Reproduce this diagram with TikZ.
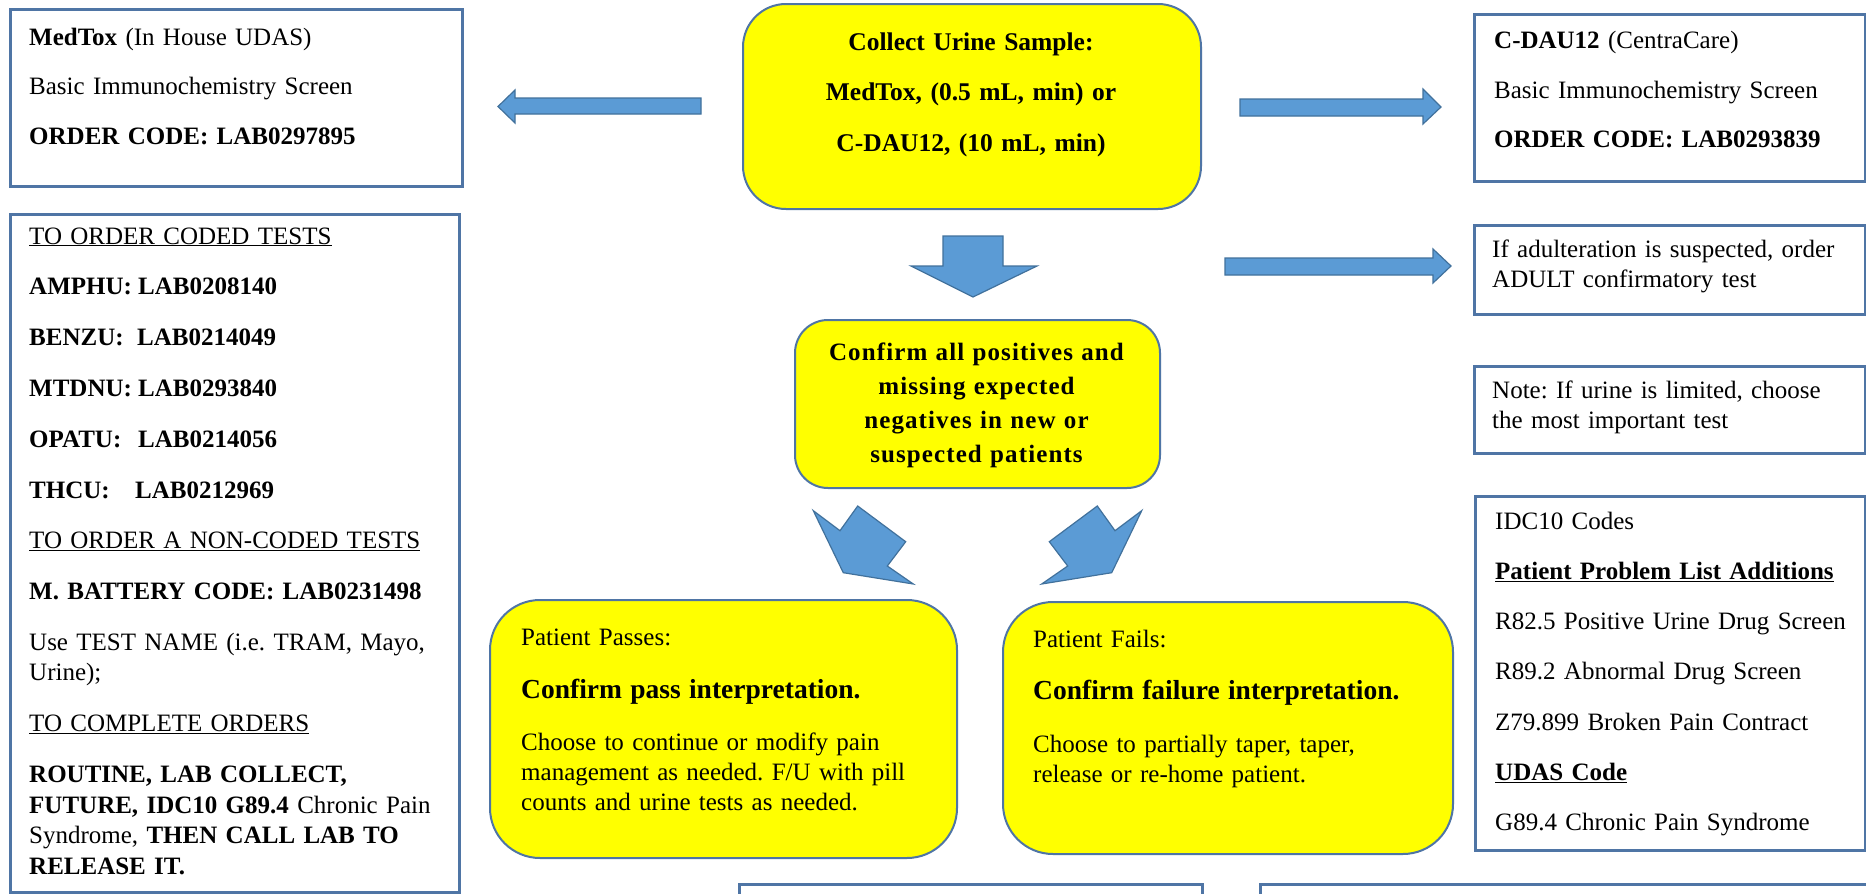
\documentclass[tikz,border=0pt]{standalone}
\usepackage{fontspec}
\setmainfont{Liberation Serif}
\newfontfamily\spacedfont[LetterSpace=4.4]{Liberation Serif}
\definecolor{boxline}{RGB}{79,117,165}
\definecolor{arrowfill}{RGB}{91,155,213}
\definecolor{arrowline}{RGB}{65,113,156}
\definecolor{yel}{RGB}{255,255,0}
\frenchspacing
\begin{document}
\begin{tikzpicture}[x=1pt,y=-1pt,
  sqbox/.style={draw=boxline, line width=2.5pt, fill=white, rectangle, inner sep=0pt, anchor=north west},
  ybox/.style={draw=boxline, line width=2pt, fill=yel, rectangle, rounded corners=#1, inner sep=0pt, anchor=north west},
  ybox/.default=45pt,
  txt/.style={anchor=base west, inner sep=0pt, align=left, text width=#1, font=\frenchspacing\fontsize{25}{30}\selectfont},
  ctxt/.style={anchor=base, inner sep=0pt, align=center, text width=#1},
  blk/.style={fill=arrowfill, draw=arrowline, line width=1.2pt, line join=miter}]
\useasboundingbox (0,0) rectangle (1866,894);
\fill[white] (0,0) rectangle (1866,894);

% ---------- left column ----------
\node[sqbox, minimum width=452pt, minimum height=177pt] (medtox) at (9,8) {};
\node[txt=420pt] (medtoxtxt) at (29,45) {\textbf{MedTox} (In House UDAS)\\[20pt]Basic Immunochemistry Screen\\[20pt]\textbf{ORDER CODE: LAB0297895}};

\node[sqbox, minimum width=449pt, minimum height=678pt] (orders) at (9,213) {};
\node[txt=425pt, font=\frenchspacing\fontsize{25}{30.5}\selectfont] (orderstxt) at (29,244) {\underline{TO ORDER CODED TESTS}\\[20.3pt]
\textbf{\makebox[109pt][l]{AMPHU:}LAB0208140}\\[20.3pt]
\textbf{\makebox[108pt][l]{BENZU:}LAB0214049}\\[20.3pt]
\textbf{\makebox[109pt][l]{MTDNU:}LAB0293840}\\[20.3pt]
\textbf{\makebox[109pt][l]{OPATU:}LAB0214056}\\[20.3pt]
\textbf{\makebox[106pt][l]{THCU:}LAB0212969}\\[20.3pt]
\underline{TO ORDER A NON-CODED TESTS}\\[20.3pt]
\textbf{M. BATTERY CODE: LAB0231498}\\[20.3pt]
Use TEST NAME (i.e. TRAM, Mayo,\\Urine);\\[20.3pt]
\underline{TO COMPLETE ORDERS}\\[20.3pt]
\textbf{ROUTINE, LAB COLLECT,}\\\textbf{FUTURE, IDC10 G89.4} Chronic Pain\\Syndrome, \textbf{THEN CALL LAB TO}\\\textbf{RELEASE IT.}};

% ---------- centre column ----------
\node[ybox=43pt, minimum width=458pt, minimum height=205pt] (collect) at (742,3) {};
\node[ctxt=440pt, font=\bfseries\fontsize{25.5}{50.5}\selectfont] (collecttxt) at (971,50) {Collect Urine Sample:\\MedTox, (0.5 mL, min) or\\C-DAU12, (10 mL, min)};

\node[ybox=33pt, minimum width=365pt, minimum height=168pt] (confirm) at (794,319) {};
\node[ctxt=360pt, font=\spacedfont\bfseries\fontsize{25}{34.3}\selectfont] (confirmtxt) at (976.5,360) {Confirm all positives and\\missing expected\\negatives in new or\\suspected patients};

\node[ybox=50pt, minimum width=467pt, minimum height=258pt] (pass) at (489,599) {};
\node[txt=425pt] (passtxt) at (521,645) {Patient Passes:\\[23pt]{\bfseries\fontsize{27.5}{30}\selectfont Confirm pass interpretation.}\\[22pt]Choose to continue or modify pain\\management as needed. F/U with pill\\counts and urine tests as needed.};

\node[ybox=50pt, minimum width=450pt, minimum height=252pt] (fail) at (1002,601) {};
\node[txt=410pt] (failtxt) at (1033,647) {Patient Fails:\\[22pt]{\bfseries\fontsize{27.5}{30}\selectfont Confirm failure interpretation.}\\[23pt]Choose to partially taper, taper,\\release or re-home patient.};

% bottom partial boxes
\node[sqbox, minimum width=463pt, minimum height=60pt] (bottomA) at (738,883) {};
\node[sqbox, minimum width=640pt, minimum height=60pt] (bottomB) at (1259,883) {};

% ---------- right column ----------
\node[sqbox, minimum width=391pt, minimum height=167pt] (cdau) at (1473,13) {};
\node[txt=360pt] (cdautxt) at (1494,48) {\textbf{C-DAU12} (CentraCare)\\[20pt]Basic Immunochemistry Screen\\[20pt]\textbf{ORDER CODE: LAB0293839}};

\node[sqbox, minimum width=391pt, minimum height=89pt] (adult) at (1473,224) {};
\node[txt=365pt] (adulttxt) at (1492,257) {If adulteration is suspected, order\\ADULT confirmatory test};

\node[sqbox, minimum width=391pt, minimum height=87pt] (note) at (1473,365) {};
\node[txt=365pt] (notetxt) at (1492,398) {Note: If urine is limited, choose\\the most important test};

\node[sqbox, minimum width=390pt, minimum height=354pt] (idc) at (1474,495) {};
\node[txt=365pt, font=\frenchspacing\fontsize{25}{30.3}\selectfont] (idctxt) at (1495,529) {IDC10 Codes\\[20pt]\underline{\textbf{Patient Problem List Additions}}\\[20pt]R82.5 Positive Urine Drug Screen\\[20pt]R89.2 Abnormal Drug Screen\\[20pt]Z79.899 Broken Pain Contract\\[20pt]\underline{\textbf{UDAS Code}}\\[20pt]G89.4 Chronic Pain Syndrome};

% ---------- block arrows ----------
\draw[blk] (701,98) -- (515,98) -- (515,90) -- (498,106.5) -- (515,123) -- (515,114) -- (701,114) -- cycle;
\draw[blk] (1240,99) -- (1423,99) -- (1423,89) -- (1441,107) -- (1423,124) -- (1423,116) -- (1240,116) -- cycle;
\draw[blk] (1225,258) -- (1433,258) -- (1433,249) -- (1451,266) -- (1433,283) -- (1433,275) -- (1225,275) -- cycle;
\draw[blk] (943,236) -- (1003,236) -- (1003,266) -- (1037,266) -- (973,297) -- (911,266) -- (943,266) -- cycle;
\draw[blk] (813.3,510.7) -- (840,530.7) -- (857.7,506) -- (905.7,541.7) -- (887.3,566) -- (913.3,584) -- (843.3,572.7) -- cycle;
\draw[blk] (1141.7,510.7) -- (1115,530.7) -- (1097.3,506) -- (1049.3,541.7) -- (1067.7,566) -- (1041.7,584) -- (1111.7,572.7) -- cycle;
\end{tikzpicture}
\end{document}
